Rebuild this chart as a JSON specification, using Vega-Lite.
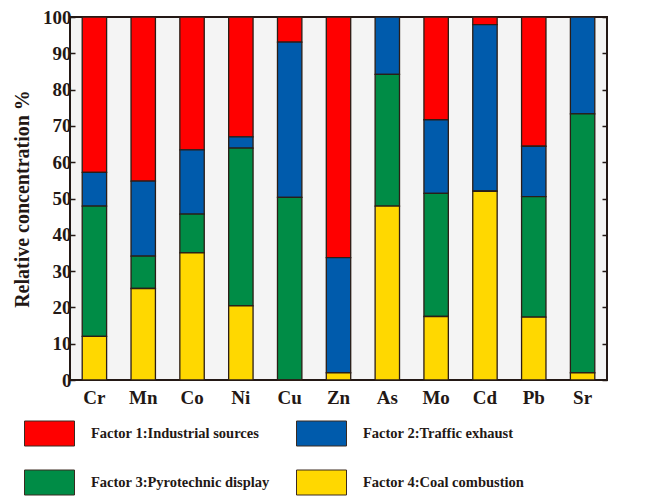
{
  "$schema": "https://vega.github.io/schema/vega-lite/v6.json",
  "width": 537,
  "height": 363,
  "autosize": {"type": "none"},
  "padding": {"left": 70, "top": 17, "right": 60, "bottom": 116},
  "background": "white",
  "config": {
    "font": "Liberation Serif",
    "view": {"fill": "#f4f4f4", "stroke": "#231815", "strokeWidth": 2}
  },
  "data": {
    "values": [
      {"element": "Cr", "factor": "Factor 1:Industrial sources", "value": 42.8},
      {"element": "Cr", "factor": "Factor 2:Traffic exhaust", "value": 9.3},
      {"element": "Cr", "factor": "Factor 3:Pyrotechnic display", "value": 35.9},
      {"element": "Cr", "factor": "Factor 4:Coal combustion", "value": 12.0},
      {"element": "Mn", "factor": "Factor 1:Industrial sources", "value": 45.2},
      {"element": "Mn", "factor": "Factor 2:Traffic exhaust", "value": 20.7},
      {"element": "Mn", "factor": "Factor 3:Pyrotechnic display", "value": 8.9},
      {"element": "Mn", "factor": "Factor 4:Coal combustion", "value": 25.2},
      {"element": "Co", "factor": "Factor 1:Industrial sources", "value": 36.6},
      {"element": "Co", "factor": "Factor 2:Traffic exhaust", "value": 17.7},
      {"element": "Co", "factor": "Factor 3:Pyrotechnic display", "value": 10.7},
      {"element": "Co", "factor": "Factor 4:Coal combustion", "value": 35.0},
      {"element": "Ni", "factor": "Factor 1:Industrial sources", "value": 33.0},
      {"element": "Ni", "factor": "Factor 2:Traffic exhaust", "value": 3.1},
      {"element": "Ni", "factor": "Factor 3:Pyrotechnic display", "value": 43.5},
      {"element": "Ni", "factor": "Factor 4:Coal combustion", "value": 20.4},
      {"element": "Cu", "factor": "Factor 1:Industrial sources", "value": 6.9},
      {"element": "Cu", "factor": "Factor 2:Traffic exhaust", "value": 42.8},
      {"element": "Cu", "factor": "Factor 3:Pyrotechnic display", "value": 50.3},
      {"element": "Cu", "factor": "Factor 4:Coal combustion", "value": 0},
      {"element": "Zn", "factor": "Factor 1:Industrial sources", "value": 66.3},
      {"element": "Zn", "factor": "Factor 2:Traffic exhaust", "value": 31.7},
      {"element": "Zn", "factor": "Factor 3:Pyrotechnic display", "value": 0},
      {"element": "Zn", "factor": "Factor 4:Coal combustion", "value": 2.0},
      {"element": "As", "factor": "Factor 1:Industrial sources", "value": 0},
      {"element": "As", "factor": "Factor 2:Traffic exhaust", "value": 15.8},
      {"element": "As", "factor": "Factor 3:Pyrotechnic display", "value": 36.3},
      {"element": "As", "factor": "Factor 4:Coal combustion", "value": 47.9},
      {"element": "Mo", "factor": "Factor 1:Industrial sources", "value": 28.3},
      {"element": "Mo", "factor": "Factor 2:Traffic exhaust", "value": 20.3},
      {"element": "Mo", "factor": "Factor 3:Pyrotechnic display", "value": 33.9},
      {"element": "Mo", "factor": "Factor 4:Coal combustion", "value": 17.5},
      {"element": "Cd", "factor": "Factor 1:Industrial sources", "value": 2.1},
      {"element": "Cd", "factor": "Factor 2:Traffic exhaust", "value": 45.9},
      {"element": "Cd", "factor": "Factor 3:Pyrotechnic display", "value": 0},
      {"element": "Cd", "factor": "Factor 4:Coal combustion", "value": 52.0},
      {"element": "Pb", "factor": "Factor 1:Industrial sources", "value": 35.6},
      {"element": "Pb", "factor": "Factor 2:Traffic exhaust", "value": 13.9},
      {"element": "Pb", "factor": "Factor 3:Pyrotechnic display", "value": 33.2},
      {"element": "Pb", "factor": "Factor 4:Coal combustion", "value": 17.3},
      {"element": "Sr", "factor": "Factor 1:Industrial sources", "value": 0},
      {"element": "Sr", "factor": "Factor 2:Traffic exhaust", "value": 26.7},
      {"element": "Sr", "factor": "Factor 3:Pyrotechnic display", "value": 71.3},
      {"element": "Sr", "factor": "Factor 4:Coal combustion", "value": 2.0}
    ]
  },
  "encoding": {
    "x": {
      "field": "element",
      "type": "nominal",
      "sort": null,
      "scale": {"paddingInner": 0.5, "paddingOuter": 0.25},
      "axis": {
        "title": null,
        "labelAngle": 0,
        "labelFont": "Liberation Serif",
        "labelFontWeight": "bold",
        "labelFontSize": 19,
        "labelColor": "#231815",
        "labelPadding": 8,
        "ticks": false,
        "domain": false
      }
    }
  },
  "layer": [
    {
      "mark": {"type": "bar", "stroke": "#2b1d16", "strokeWidth": 1.3},
      "encoding": {
        "y": {
          "field": "value",
          "type": "quantitative",
          "stack": "zero",
          "scale": {"domain": [0, 100], "nice": false},
          "axis": {
            "title": "Relative concentration %",
            "titleFont": "Liberation Serif",
            "titleFontWeight": "bold",
            "titleFontSize": 20,
            "titleColor": "#231815",
            "titlePadding": 10,
            "values": [0, 10, 20, 30, 40, 50, 60, 70, 80, 90, 100],
            "labelFont": "Liberation Serif",
            "labelFontWeight": "bold",
            "labelFontSize": 19,
            "labelColor": "#231815",
            "labelPadding": 4,
            "tickSize": -5,
            "tickColor": "#231815",
            "tickWidth": 1.5,
            "domain": false,
            "grid": false
          }
        },
        "color": {
          "field": "factor",
          "type": "nominal",
          "scale": {
            "domain": ["Factor 1:Industrial sources", "Factor 2:Traffic exhaust", "Factor 3:Pyrotechnic display", "Factor 4:Coal combustion"],
            "range": ["#ff0000", "#005bac", "#008c46", "#ffd800"]
          },
          "legend": {
            "title": null,
            "orient": "none",
            "legendX": -46,
            "legendY": 391,
            "direction": "horizontal",
            "columns": 2,
            "columnPadding": 24,
            "rowPadding": 9,
            "symbolType": "M-1,-0.5H1V0.5H-1Z",
            "symbolSize": 2500,
            "symbolStrokeColor": "#3a2a20",
            "symbolStrokeWidth": 1,
            "symbolOpacity": 1,
            "labelFont": "Liberation Serif",
            "labelFontWeight": "bold",
            "labelFontSize": 14.5,
            "labelColor": "#231815",
            "labelOffset": 16,
            "labelLimit": 400
          }
        },
        "order": {"field": "factor", "sort": "descending"}
      }
    },
    {
      "mark": {"type": "bar", "opacity": 0},
      "encoding": {
        "y": {
          "field": "value",
          "type": "quantitative",
          "stack": "zero",
          "scale": {"domain": [0, 100], "nice": false},
          "axis": {
            "orient": "right",
            "title": null,
            "values": [0, 10, 20, 30, 40, 50, 60, 70, 80, 90, 100],
            "labels": false,
            "tickSize": -5,
            "tickColor": "#231815",
            "tickWidth": 1.5,
            "domain": false,
            "grid": false
          }
        }
      }
    }
  ],
  "resolve": {"axis": {"y": "independent"}}
}
